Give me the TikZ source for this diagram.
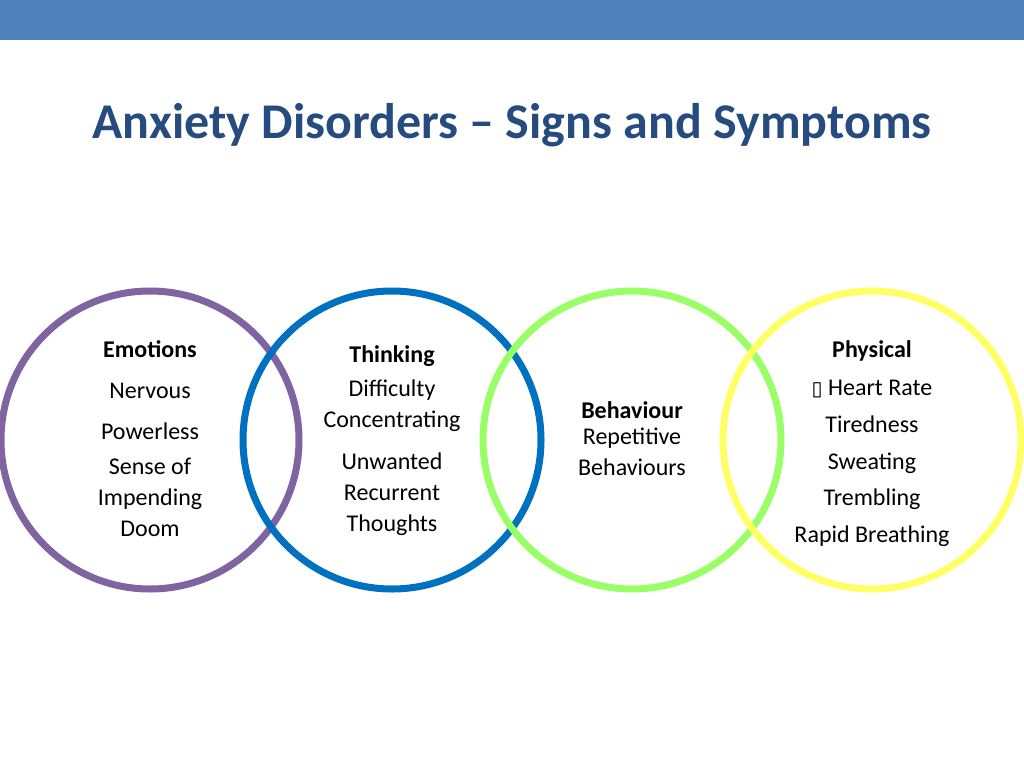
\documentclass[tikz,border=0pt]{standalone}
\usepackage{fontspec}
\setmainfont{Carlito}
\newfontfamily\symf{DejaVu Sans}
\definecolor{bar}{HTML}{4F81BD}
\definecolor{ttl}{HTML}{264B7E}
\definecolor{cpur}{HTML}{8064A2}
\definecolor{cblu}{HTML}{0070C0}
\definecolor{cgrn}{HTML}{99FF66}
\definecolor{cyel}{HTML}{FFFF66}
\begin{document}
\begin{tikzpicture}[x=1pt,y=-1pt,
  ring/.style={line width=7pt},
  t/.style={font=\fontsize{24}{24}\selectfont, inner sep=0pt, anchor=base},
  h/.style={t, font=\fontsize{24}{24}\selectfont\bfseries},
  m/.style={t, align=center, font=\fontsize{24}{31}\selectfont}]
\useasboundingbox (0,0) rectangle (1024,768);
\fill[bar] (0,0) rectangle (1024,40);
\node[font=\fontsize{50}{50}\selectfont\bfseries, text=ttl, anchor=base] (title) at (512,138) {Anxiety Disorders – Signs and Symptoms};
\draw[ring, cpur] (150,440) circle (149);
\draw[ring, cblu] (392,440) circle (149);
\draw[ring, cgrn] (632,440) circle (149);
\draw[ring, cyel] (872,440) circle (149);
% Emotions
\node[h] (e0) at (150,357) {Emotions};
\node[t] (e1) at (150,398) {Nervous};
\node[t] (e2) at (150,439) {Powerless};
\node[m, anchor=north] (e3) at (150,458) {Sense of\\Impending\\Doom};
% Thinking
\node[h] (t0) at (392,362) {Thinking};
\node[m, anchor=north] (t1) at (392,380) {Difficulty\\Concentrating};
\node[m, anchor=north] (t2) at (392,453) {Unwanted\\Recurrent\\Thoughts};
% Behaviour
\node[h] (b0) at (632,418) {Behaviour};
\node[m, anchor=north] (b1) at (632,428) {Repetitive\\Behaviours};
% Physical
\node[h] (p0) at (872,357) {Physical};
\node[t] (p1) at (872,395) {{\symf\fontsize{20}{20}\selectfont ▯} Heart Rate};
\node[t] (p2) at (872,432) {Tiredness};
\node[t] (p3) at (872,469) {Sweating};
\node[t] (p4) at (872,505) {Trembling};
\node[t] (p5) at (872,542) {Rapid Breathing};
\end{tikzpicture}
\end{document}
